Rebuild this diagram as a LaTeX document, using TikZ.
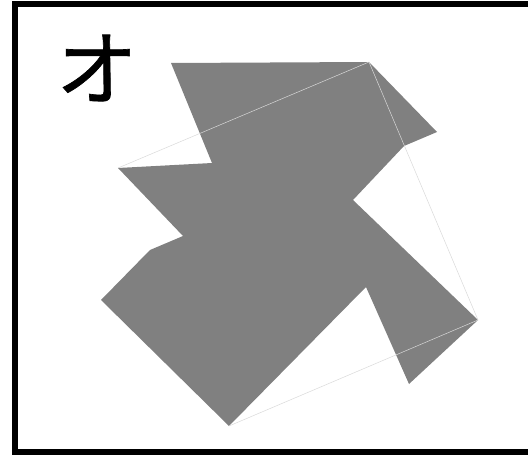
\documentclass[tikz,border=0pt]{standalone}
\usepackage{fontspec}
\newfontfamily\cjk[FakeBold=0.8]{Noto Sans CJK JP}
\usetikzlibrary{positioning}

\begin{document}
\begin{tikzpicture}[x=1pt, y=-1pt, every node/.style={inner sep=0pt}]
    \useasboundingbox (0,0) rectangle (528,455);
    \tikzset{
        pezzo/.style={fill=black!50, draw=none},
        guida/.style={draw=black!15, line width=0.5pt}
    }

    % cornice
    \draw[line width=6pt] (15,4) rectangle (545,452);

    \node (kana) at (97,68) {\cjk\fontsize{82}{82}\selectfont オ};

    \coordinate (a) at (171,63);
    \coordinate (b) at (369,62);
    \coordinate (c) at (437,132);
    \coordinate (d) at (404,146);
    \coordinate (e) at (353,200);
    \coordinate (f) at (478,320);
    \coordinate (g) at (409,384);
    \coordinate (h) at (366,287);
    \coordinate (i) at (229,426);
    \coordinate (j) at (101,300);
    \coordinate (k) at (150,250);
    \coordinate (l) at (183,236);
    \coordinate (m) at (118,168);
    \coordinate (n) at (212,163);

    \fill[pezzo] (a) -- (b) -- (c) -- (d) -- (e) -- (f) -- (g) -- (h)
        -- (i) -- (j) -- (k) -- (l) -- (m) -- (n) -- cycle;

    % lati del quadrato
    \draw[guida] (m) -- (b) -- (f) -- (i);

\end{tikzpicture}
\end{document}
